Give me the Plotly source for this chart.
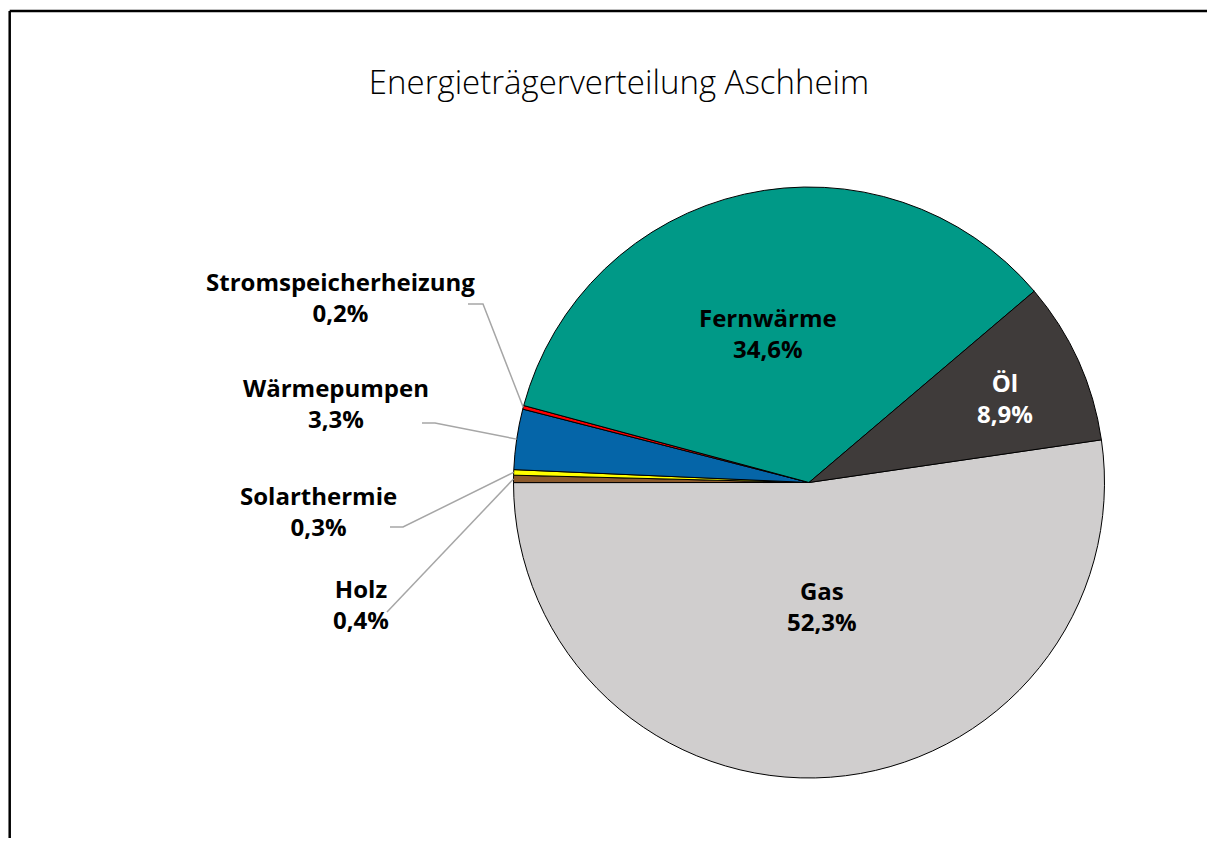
import math
import plotly.graph_objects as go

# ---- data ----
categories = ["Gas", "Holz", "Solarthermie", "Wärmepumpen",
              "Stromspeicherheizung", "Fernwärme", "Öl"]
shares = [52.3, 0.4, 0.3, 3.3, 0.2, 34.6, 8.9]
share_labels = ["52,3%", "0,4%", "0,3%", "3,3%", "0,2%", "34,6%", "8,9%"]
colors = ["#D0CECE", "#8C5A2C", "#FFFF00", "#0565A8", "#FF0000", "#009987", "#3F3B3A"]
title_text = "Energieträgerverteilung Aschheim"

# ---- layout constants (pixels, in page coordinates) ----
PAGE_W, PAGE_H = 1215, 846
OFF = 8  # page body margin
W, H = PAGE_W - 2 * OFF, PAGE_H - 2 * OFF
CX, CY, R = 809.0, 482.5, 295.5
ROTATION = 81.7

def px(x):
    return (x - OFF) / W

def py(y):
    return 1 - (y - OFF) / H

fig = go.Figure(go.Pie(
    labels=categories,
    values=shares,
    sort=False,
    direction="clockwise",
    rotation=ROTATION,
    marker=dict(colors=colors, line=dict(color="#000000", width=1)),
    textinfo="none",
    hoverinfo="label+percent",
    showlegend=False,
    domain=dict(x=[px(CX - R), px(CX + R)], y=[py(CY + R), py(CY - R)]),
))

# label placement (pixel centres) and text colours
label_pos = {
    "Gas": (822, 606),
    "Holz": (361, 604),
    "Solarthermie": (318, 511),
    "Wärmepumpen": (336, 403),
    "Stromspeicherheizung": (340, 297),
    "Fernwärme": (768, 333),
    "Öl": (1005, 398),
}
label_color = {"Öl": "#FFFFFF"}

# leader line starting points (pixels) for outside labels
leader_start = {
    "Stromspeicherheizung": [(468, 304), (483, 304)],
    "Wärmepumpen": [(422, 423), (435, 423)],
    "Solarthermie": [(390, 527), (403, 527)],
    "Holz": [(387, 612)],
}

annotations = []
for cat, lab in zip(categories, share_labels):
    x, y = label_pos[cat]
    annotations.append(dict(
        x=px(x), y=py(y), xref="paper", yref="paper",
        text=f"<b>{cat}<br>{lab}</b>", showarrow=False,
        xanchor="center", yanchor="middle", align="center",
        font=dict(family="Open Sans", size=24, color=label_color.get(cat, "#000000")),
    ))

# compute slice mid-angles from the data for leader line end points
total = sum(shares)
shapes = []
cum = 0.0
for cat, v in zip(categories, shares):
    mid = cum + v / 2
    cum += v
    if cat not in leader_start:
        continue
    ang = math.radians(ROTATION + 360 * mid / total)
    ex = CX + R * math.sin(ang)
    ey = CY - R * math.cos(ang)
    pts = leader_start[cat] + [(ex, ey)]
    path = "M " + " L ".join(f"{px(a):.5f},{py(b):.5f}" for a, b in pts)
    shapes.append(dict(type="path", xref="paper", yref="paper", path=path,
                       line=dict(color="#A6A6A6", width=1.5)))

# outer chart frame (left and top edges visible)
shapes.append(dict(type="line", xref="paper", yref="paper",
                   x0=px(9.7), x1=1.1, y0=py(11), y1=py(11),
                   line=dict(color="#000000", width=2.5)))
shapes.append(dict(type="line", xref="paper", yref="paper",
                   x0=px(9.7), x1=px(9.7), y0=-0.1, y1=py(11),
                   line=dict(color="#000000", width=2.5)))

fig.update_layout(
    width=W, height=H,
    margin=dict(l=0, r=0, t=0, b=0),
    paper_bgcolor="#FFFFFF",
    plot_bgcolor="#FFFFFF",
    title=dict(text=title_text, x=px(619), y=py(82), xanchor="center", yanchor="middle",
               font=dict(family="Open Sans", size=33, color="#000000", weight=300)),
    annotations=annotations,
    shapes=shapes,
)

fig.write_html("out.html")
